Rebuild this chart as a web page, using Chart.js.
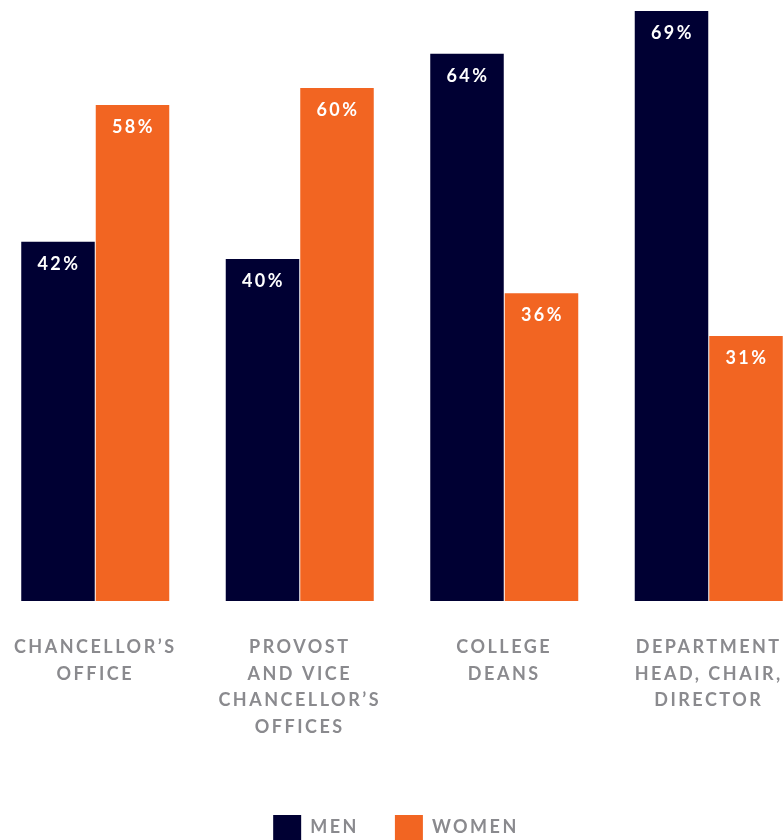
<!DOCTYPE html>
<html>
<head>
<meta charset="utf-8">
<script src="https://cdn.jsdelivr.net/npm/chart.js@4.4.1/dist/chart.umd.min.js"></script>
<style>
  html, body { margin: 0; padding: 0; background: #fff; overflow: hidden; }
  #caja { position: relative; width: 820px; height: 840px; margin-left: -7px; }
</style>
</head>
<body>
<div id="caja"><canvas id="grafico"></canvas></div>
<script>
const categorias = [
  ["CHANCELLOR\u2019S", "OFFICE"],
  ["PROVOST", "AND VICE", "CHANCELLOR\u2019S", "OFFICES"],
  ["COLLEGE", "DEANS"],
  ["DEPARTMENT", "HEAD, CHAIR,", "DIRECTOR"]
];
const hombres = [42, 40, 64, 69];
const mujeres = [58, 60, 36, 31];

const NAVY = "#000033";
const NARANJA = "#F26522";
const GRIS = "#8a8a8e";
const FUENTE = "Lato, 'Open Sans', sans-serif";
const ESPACIADO = "2.5px";

// espaciado de letras para todo el texto del canvas
const espaciado = {
  id: "espaciado",
  beforeUpdate(chart) { chart.ctx.letterSpacing = ESPACIADO; },
  beforeDraw(chart) { chart.ctx.letterSpacing = ESPACIADO; },
  afterLayout(chart) {
    // la leyenda del original esta un poco a la izquierda del centro
    chart.legend.left -= 6;
    chart.legend.right -= 6;
  }
};

// etiquetas blancas dentro de cada barra
const etiquetas = {
  id: "etiquetas",
  afterDatasetsDraw(chart) {
    const ctx = chart.ctx;
    ctx.save();
    ctx.fillStyle = "#ffffff";
    ctx.font = "bold 18px " + FUENTE;
    ctx.textAlign = "center";
    ctx.textBaseline = "middle";
    chart.data.datasets.forEach((ds, i) => {
      chart.getDatasetMeta(i).data.forEach((bar, j) => {
        ctx.fillText(ds.data[j] + "%", bar.x + 1, bar.y + 22);
      });
    });
    ctx.restore();
  }
};

const grafico = () => {
  const canvas = document.getElementById("grafico");
  new Chart(canvas, {
    type: "bar",
    data: {
      labels: categorias,
      datasets: [
        { label: "MEN", data: hombres, backgroundColor: NAVY },
        { label: "WOMEN", data: mujeres, backgroundColor: NARANJA }
      ]
    },
    options: {
      responsive: true,
      maintainAspectRatio: false,
      animation: false,
      datasets: { bar: { categoryPercentage: 0.7286, barPercentage: 0.9866 } },
      layout: { padding: { top: 11, left: 0, right: 2, bottom: -10 } },
      scales: {
        y: { display: false, min: 0, max: 69 },
        x: {
          grid: { display: false },
          border: { display: false },
          ticks: {
            color: GRIS,
            font: { family: FUENTE, weight: "bold", size: 18, lineHeight: 1.472 },
            padding: 25,
            maxRotation: 0,
            autoSkip: false
          },
          afterFit: (scale) => {
            scale.height = 178;
            scale.paddingLeft = 0;
            scale.paddingRight = 0;
          }
        }
      },
      plugins: {
        tooltip: { enabled: false },
        legend: {
          position: "bottom",
          labels: {
            color: GRIS,
            font: { family: FUENTE, weight: "bold", size: 18 },
            boxWidth: 28,
            boxHeight: 25,
            padding: 36
          }
        }
      }
    },
    plugins: [espaciado, etiquetas]
  });
};

grafico();
</script>
</body>
</html>
